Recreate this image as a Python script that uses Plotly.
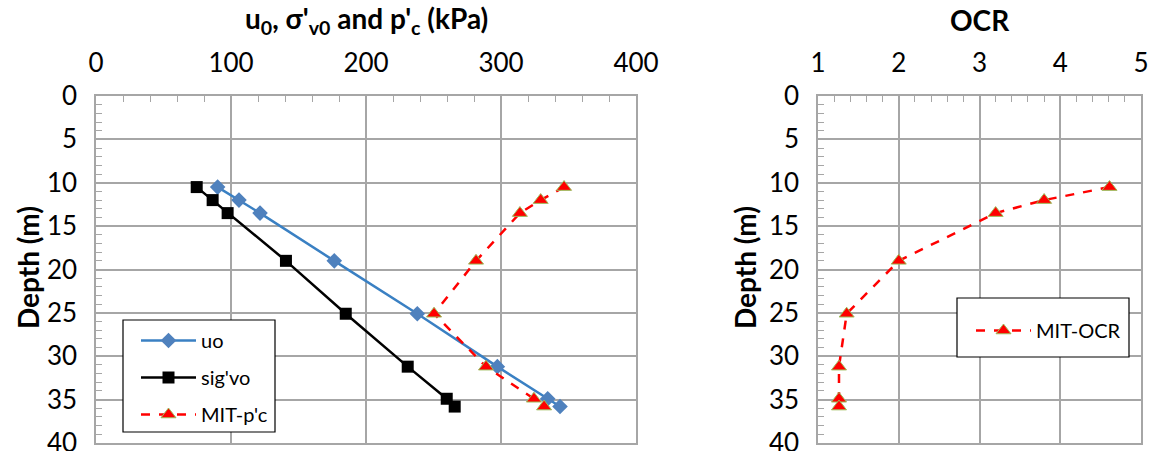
import plotly.graph_objects as go

depth = [10.5, 12.0, 13.5, 19.0, 25.1, 31.2, 34.9, 35.8]
uo = [90.1, 105.9, 121.5, 176.5, 238.0, 297.3, 334.6, 343.7]
sigvo = [74.6, 86.4, 97.5, 140.7, 185.0, 230.9, 259.8, 265.7]
pc = [346.7, 329.4, 314.0, 281.5, 250.4, 288.9, 324.4, 331.9]
ocr = [4.61, 3.80, 3.20, 2.00, 1.355, 1.26, 1.26, 1.26]

FONT = "Lato"
GRID = "#a6a6a6"
W, H = 1150, 451
TICK = 26
TITLE = 28
LEG = 20

fig = go.Figure()

fig.add_trace(go.Scatter(x=uo, y=depth, mode="lines+markers", name="uo",
                         legendgroup="a",
                         line=dict(color="#3a80c3", width=2.5),
                         marker=dict(symbol="diamond", size=12, color="#4f81bd"),
                         xaxis="x", yaxis="y"))
fig.add_trace(go.Scatter(x=sigvo, y=depth, mode="lines+markers", name="sig'vo",
                         legendgroup="b",
                         line=dict(color="black", width=2.5),
                         marker=dict(symbol="square", size=12, color="black"),
                         xaxis="x", yaxis="y"))
fig.add_trace(go.Scatter(x=pc, y=depth, mode="lines+markers", name="MIT-p'c",
                         legendgroup="c",
                         line=dict(color="#ff0000", width=2.5, dash="dash"),
                         marker=dict(symbol="triangle-up", size=13, color="#ff0000",
                                     line=dict(color="#9bbb59", width=1)),
                         xaxis="x", yaxis="y"))
fig.add_trace(go.Scatter(x=ocr, y=depth, mode="lines+markers", name="MIT-OCR",
                         legend="legend2",
                         line=dict(color="#ff0000", width=2.5, dash="dash"),
                         marker=dict(symbol="triangle-up", size=13, color="#ff0000",
                                     line=dict(color="#9bbb59", width=1)),
                         xaxis="x2", yaxis="y2"))

def xax(rng, dtick, minor, dom, anchor):
    return dict(domain=dom, range=rng, side="top", anchor=anchor, automargin=False,
                dtick=dtick, tick0=rng[0], showgrid=True, gridcolor=GRID, gridwidth=1.5,
                showline=True, linecolor=GRID, linewidth=1.5, mirror=True,
                ticks="", zeroline=False, ticklabelstandoff=12, ticklabeloverflow="allow",
                tickfont=dict(family=FONT, size=TICK, color="black"),
                minor=dict(dtick=minor, ticks="inside", ticklen=6, tickcolor=GRID,
                           tickwidth=1, showgrid=False))

def yax(dom, anchor):
    return dict(domain=dom, range=[40, 0], anchor=anchor, automargin=False,
                dtick=5, tick0=0,
                showgrid=True, gridcolor=GRID, gridwidth=1.5,
                showline=True, linecolor=GRID, linewidth=1.5, mirror=True,
                ticks="", zeroline=False, ticklabelstandoff=12, ticklabeloverflow="allow",
                tickfont=dict(family=FONT, size=TICK, color="black"),
                minor=dict(dtick=1, ticks="inside", ticklen=6, tickcolor=GRID,
                           tickwidth=1, showgrid=False))

ydom = [1 - 443 / H, 1 - 96 / H]
fig.update_layout(
    width=W, height=H,
    margin=dict(l=0, r=0, t=0, b=0),
    paper_bgcolor="white", plot_bgcolor="white",
    xaxis=xax([0, 400], 100, 20, [96 / W, 636 / W], "y"),
    yaxis=yax(ydom, "x"),
    xaxis2=xax([1, 5], 1, 0.2, [818 / W, 1141 / W], "y2"),
    yaxis2=yax(ydom, "x2"),
    showlegend=True,
    legend=dict(x=136 / W, y=1 - 321 / H, xanchor="left", yanchor="top",
                bgcolor="rgba(0,0,0,0)", borderwidth=0,
                font=dict(family=FONT, size=LEG, color="black"),
                itemwidth=55, tracegroupgap=8, traceorder="grouped"),
    legend2=dict(x=971 / W, y=1 - 311 / H, xanchor="left", yanchor="top",
                 bgcolor="rgba(0,0,0,0)", borderwidth=0,
                 font=dict(family=FONT, size=LEG, color="black"),
                 itemwidth=55),
)

# legend frames
for x0, y0, x1, y1 in [(123, 320, 275, 432), (957, 298, 1129, 357)]:
    fig.add_shape(type="rect", xref="paper", yref="paper",
                  x0=x0 / W, x1=x1 / W, y0=1 - y1 / H, y1=1 - y0 / H,
                  fillcolor="white", line=dict(color="black", width=1.2), layer="above")

ann_font = dict(family=FONT, size=TITLE, color="black")
fig.add_annotation(text="<b>u<sub>0</sub>, σ'<sub>v0</sub> and p'<sub>c</sub> (kPa)</b>",
                   x=366 / W, y=1 - 20 / H, xref="paper", yref="paper",
                   xanchor="center", yanchor="middle", showarrow=False, font=ann_font)
fig.add_annotation(text="<b>OCR</b>", x=980 / W, y=1 - 20 / H, xref="paper", yref="paper",
                   xanchor="center", yanchor="middle", showarrow=False, font=ann_font)
for xc in (28, 745):
    fig.add_annotation(text="<b>Depth (m)</b>", x=xc / W, y=1 - 268 / H,
                       xref="paper", yref="paper", xanchor="center", yanchor="middle",
                       textangle=-90, showarrow=False, font=ann_font)

fig.write_html("out.html", config={"displayModeBar": False},
               post_script="document.body.style.margin='0';document.body.style.padding='0';")
